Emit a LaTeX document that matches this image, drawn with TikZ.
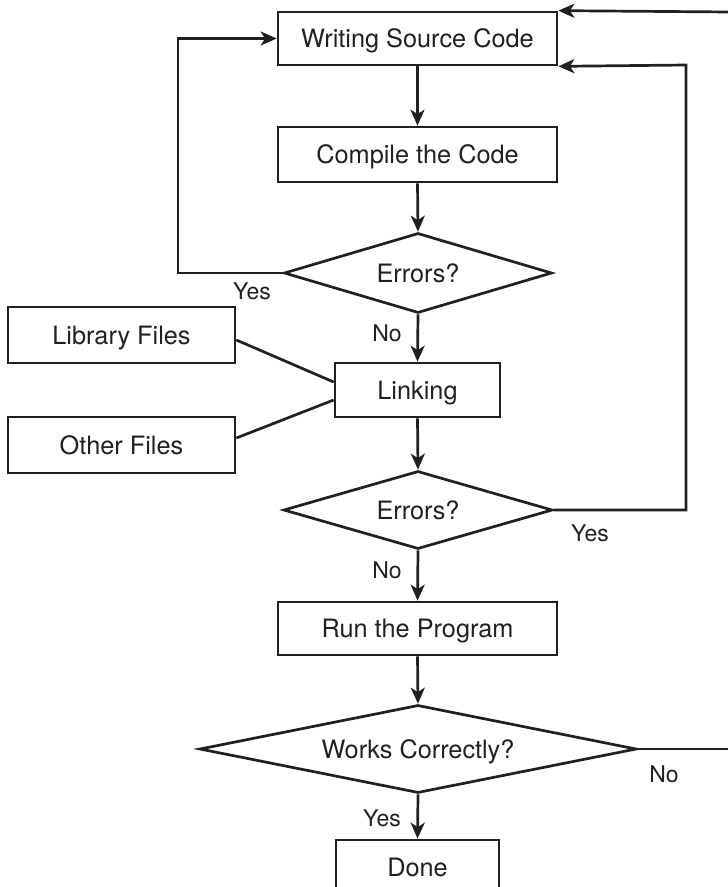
\documentclass[tikz,border=0pt]{standalone}
\usepackage{fontspec}
\setmainfont{TeX Gyre Heros}
\usetikzlibrary{shapes.geometric,arrows.meta}
\definecolor{ink}{HTML}{231F20}
\begin{document}
\begin{tikzpicture}[x=1pt,y=-1pt,
  every node/.style={text=ink},
  box/.style={draw=ink, line width=2.7pt, rectangle, inner sep=0pt, text height=18pt, text depth=0pt, font=\fontsize{25.3}{28}\selectfont},
  dec/.style={draw=ink, line width=2.7pt, diamond, aspect=3.4, inner sep=0pt, text height=18pt, text depth=0pt, font=\fontsize{25.3}{28}\selectfont},
  lbl/.style={font=\fontsize{23}{26}\selectfont, inner sep=0pt, text height=16.5pt, text depth=0pt},
  conn/.style={draw=ink, line width=2.7pt},
  arr/.style={conn, -{Stealth[length=16pt,width=14pt,inset=4.5pt]}},
]
\useasboundingbox (0,0) rectangle (728,887);

% boxes
\node[box, minimum width=279pt, minimum height=53pt] (write) at (417.5,38.5) {Writing Source Code};
\node[box, minimum width=279pt, minimum height=55pt] (compile) at (417.5,154.5) {Compile the Code};
\node[dec, minimum width=268pt, minimum height=80pt] (d1) at (418,273) {Errors?};
\node[box, minimum width=165pt, minimum height=54pt] (link) at (417.5,390) {Linking};
\node[box, minimum width=227pt, minimum height=56pt] (lib) at (121.5,335) {Library Files};
\node[box, minimum width=227pt, minimum height=56pt] (other) at (121.5,445) {Other Files};
\node[dec, minimum width=269pt, minimum height=78pt] (d2) at (418,510) {Errors?};
\node[box, minimum width=279pt, minimum height=53pt] (run) at (417.5,628.5) {Run the Program};
\node[dec, minimum width=437pt, minimum height=88pt] (d3) at (418,749) {Works Correctly?};
\node[box, minimum width=163pt, minimum height=54pt, text height=0pt] (done) at (417.5,867) {\raisebox{-9pt}{Done}};

% labels
\node[lbl] (yes1) at (252,291) {Yes};
\node[lbl] (no1) at (387,333) {No};
\node[lbl] (yes2) at (590,533) {Yes};
\node[lbl] (no2) at (387,570) {No};
\node[lbl] (no3) at (664,774) {No};
\node[lbl] (yes3) at (382,818) {Yes};

% free ends
\coordinate (edgeA) at (731,12);
\coordinate (edgeB) at (731,749);

% connectors
\draw[arr] (write.south) -- (compile.north);
\draw[arr] (compile.south) -- (d1.north);
\draw[arr] (d1.west) -- (178,273) -- (178,38.5) -- (write.west);
\draw[arr] (d1.south) -- (link.north);
\draw[conn] ([yshift=-5pt]lib.east) -- ([yshift=8pt]link.west);
\draw[conn] ([yshift=7pt]other.east) -- ([yshift=-10pt]link.west);
\draw[arr] (link.south) -- (d2.north);
\draw[arr] (d2.east) -- (686,510) -- (686,65) -- (write.south east);
\draw[arr] (edgeA) -- (write.north east);
\draw[arr] (d2.south) -- (run.north);
\draw[arr] (run.south) -- (d3.north);
\draw[conn] (d3.east) -- (edgeB);
\draw[arr] (d3.south) -- (done.north);
\end{tikzpicture}
\end{document}
